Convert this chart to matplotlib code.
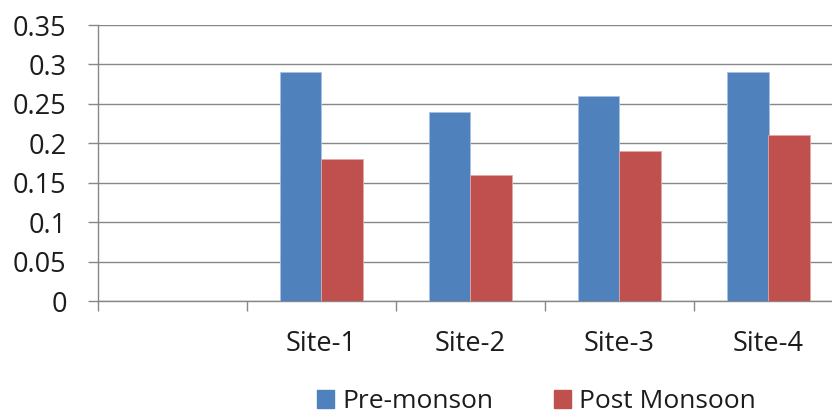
import matplotlib
matplotlib.use("Agg")
import matplotlib.pyplot as plt
import numpy as np
from matplotlib.patches import Patch

categories = ["", "Site-1", "Site-2", "Site-3", "Site-4"]
pre_monsoon = [np.nan, 0.29, 0.24, 0.26, 0.29]
post_monsoon = [np.nan, 0.18, 0.16, 0.19, 0.21]
series_names = ["Pre-monson", "Post Monsoon"]
y_ticks = [0, 0.05, 0.1, 0.15, 0.2, 0.25, 0.3, 0.35]
y_tick_labels = ["0", "0.05", "0.1", "0.15", "0.2", "0.25", "0.3", "0.35"]

plt.rcParams['font.family'] = ['Open Sans', 'DejaVu Sans']
W, H = 832, 419
fig = plt.figure(figsize=(W / 100, H / 100), dpi=100)
left, right, bottom, top = 98, 843, 301, 25
ax = fig.add_axes([left / W, (H - bottom) / H, (right - left) / W, (bottom - top) / H])

blue = "#4F81BD"
red = "#C0504D"
grid_c = "#878787"
txt_c = "#1c1c1c"
fs = 19.5

centers = np.arange(len(categories)) + 0.5
bw = 0.28
ax.bar(centers - bw / 2, pre_monsoon, width=bw, color=blue, edgecolor="#a9c0e0", linewidth=0.6, zorder=3)
ax.bar(centers + bw / 2, post_monsoon, width=bw, color=red, edgecolor="#e0a9a8", linewidth=0.6, zorder=3)

ax.set_xlim(0, len(categories))
ax.set_ylim(0, 0.35)
ax.set_yticks(y_ticks)
ax.set_yticklabels(y_tick_labels)
ax.yaxis.grid(True, color=grid_c, linewidth=1.0, zorder=0)
ax.set_axisbelow(True)

ax.set_xticks(np.arange(len(categories) + 1))
ax.set_xticklabels([])
ax.set_xticks(centers, minor=True)
ax.set_xticklabels(categories, minor=True)
ax.tick_params(axis="x", which="major", length=7, width=1.0, color=grid_c, direction="out")
ax.tick_params(axis="x", which="minor", length=0, pad=21, labelsize=fs, labelcolor=txt_c)
ax.tick_params(axis="y", length=7.5, width=1.0, color=grid_c, pad=15, labelsize=fs, labelcolor=txt_c)

for s in ["top", "right"]:
    ax.spines[s].set_visible(False)
for s in ["left", "bottom"]:
    ax.spines[s].set_color(grid_c)
    ax.spines[s].set_linewidth(1.0)

handles = [Patch(facecolor=blue, edgecolor=blue), Patch(facecolor=red, edgecolor=red)]
fig.legend(handles, series_names, loc="upper left", bbox_to_anchor=(317 / W, 30 / H),
           ncol=2, frameon=False, fontsize=19, borderpad=0, borderaxespad=0,
           handlelength=0.65, handleheight=0.65, handletextpad=0.3, columnspacing=2.3,
           labelcolor=txt_c)

fig.savefig("out.png", dpi=100)
